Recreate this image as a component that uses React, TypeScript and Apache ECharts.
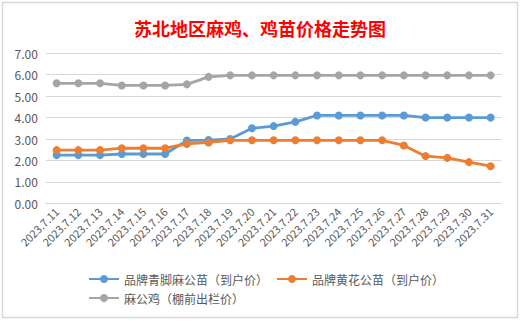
import React, { useEffect, useRef } from "react";
import * as echarts from "echarts";

const titleText = "苏北地区麻鸡、鸡苗价格走势图";
const dates = [
  "2023.7.11", "2023.7.12", "2023.7.13", "2023.7.14", "2023.7.15", "2023.7.16", "2023.7.17",
  "2023.7.18", "2023.7.19", "2023.7.20", "2023.7.21", "2023.7.22", "2023.7.23", "2023.7.24",
  "2023.7.25", "2023.7.26", "2023.7.27", "2023.7.28", "2023.7.29", "2023.7.30", "2023.7.31",
];
const seriesNames = ["品牌青脚麻公苗（到户价）", "品牌黄花公苗（到户价）", "麻公鸡（棚前出栏价）"];
const blueValues = [2.25, 2.25, 2.25, 2.3, 2.3, 2.3, 2.93, 2.95, 3.0, 3.5, 3.6, 3.8, 4.1, 4.1, 4.1, 4.1, 4.1, 4.0, 4.0, 4.0, 4.0];
const orangeValues = [2.48, 2.48, 2.48, 2.57, 2.57, 2.57, 2.77, 2.84, 2.94, 2.94, 2.94, 2.94, 2.94, 2.94, 2.94, 2.94, 2.7, 2.2, 2.12, 1.92, 1.73];
const grayValues = [5.6, 5.6, 5.6, 5.5, 5.5, 5.5, 5.55, 5.9, 5.97, 5.97, 5.97, 5.97, 5.97, 5.97, 5.97, 5.97, 5.97, 5.97, 5.97, 5.97, 5.97];
const colors = ["#5B9BD5", "#ED7D31", "#A5A5A5"];

export default function App() {
  const ref = useRef<HTMLDivElement>(null);
  useEffect(() => {
    if (!ref.current) return;
    const chart = echarts.init(ref.current, undefined, { renderer: "svg" });
    const font = "'Microsoft YaHei', 'Noto Sans CJK SC', sans-serif";
    const mk = (name: string, data: number[], color: string) => ({
      name,
      type: "line",
      data,
      symbol: "circle",
      symbolSize: 8,
      showSymbol: true,
      lineStyle: { color, width: 2.8 },
      itemStyle: { color },
      emphasis: { disabled: true },
    });
    chart.setOption({
      animation: false,
      backgroundColor: "#ffffff",
      title: {
        text: titleText,
        left: "center",
        top: 14,
        textStyle: { color: "#FF0000", fontSize: 18, fontWeight: "bold", fontFamily: "'Noto Sans CJK SC', sans-serif" },
      },
      graphic: [
        {
          type: "rect",
          shape: { x: 2.5, y: 2.5, width: 515, height: 315 },
          style: { fill: "none", stroke: "#d9d9d9", lineWidth: 1.5 },
          silent: true,
        },
      ],
      legend: [
        {
          data: [seriesNames[0], seriesNames[1]],
          left: 83,
          top: 268,
          itemWidth: 30,
          itemHeight: 10,
          itemGap: 8,
          textStyle: { color: "#595959", fontSize: 12, fontFamily: font },
        },
        {
          data: [seriesNames[2]],
          left: 83,
          top: 287,
          itemWidth: 30,
          itemHeight: 10,
          textStyle: { color: "#595959", fontSize: 12, fontFamily: font },
        },
      ],
      grid: { left: 45.8, right: 18.5, top: 53.3, bottom: 117.7 },
      xAxis: {
        type: "category",
        data: dates,
        boundaryGap: true,
        axisLine: { show: true, lineStyle: { color: "#d9d9d9", width: 1 } },
        axisTick: { show: false },
        axisLabel: {
          rotate: 45,
          interval: 0,
          color: "#595959",
          fontSize: 11,
          margin: 6,
          fontFamily: font,
        },
      },
      yAxis: {
        type: "value",
        min: 0,
        max: 7,
        interval: 1,
        axisLine: { show: false },
        axisTick: { show: false },
        splitLine: { lineStyle: { color: "#d9d9d9", width: 1 } },
        axisLabel: {
          color: "#595959",
          fontSize: 12,
          margin: 8,
          fontFamily: font,
          formatter: (v: number) => v.toFixed(2),
        },
      },
      series: [
        mk(seriesNames[0], blueValues, colors[0]),
        mk(seriesNames[1], orangeValues, colors[1]),
        mk(seriesNames[2], grayValues, colors[2]),
      ],
    });
    return () => chart.dispose();
  }, []);
  return <div ref={ref} style={{ position: "fixed", left: 0, top: 0, width: 520, height: 321 }} />;
}
